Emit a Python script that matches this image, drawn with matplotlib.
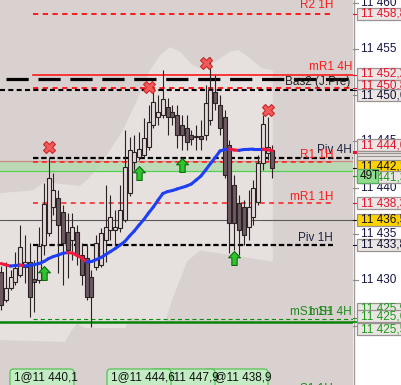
import numpy as np
import matplotlib
matplotlib.use('Agg')
import matplotlib.pyplot as plt
from matplotlib.patches import Rectangle, FancyBboxPatch
from matplotlib.path import Path

plt.rcParams['font.family'] = ['Liberation Sans', 'DejaVu Sans']
plt.rcParams['lines.scale_dashes'] = False

# candles (one per bar)
opens = [11430.9, 11427.8, 11429.1, 11429.8, 11430.5, 11431.4, 11431.9, 11430.1, 11430.0, 11433.8,
         11435.1, 11437.9, 11438.9, 11437.4, 11435.2, 11434.3, 11435.2, 11432.7, 11432.4, 11430.3,
         11431.4, 11431.6, 11434.3, 11435.4, 11435.4, 11435.6, 11436.5, 11439.4, 11442.8, 11443.3,
         11443.5, 11444.4, 11446.8, 11447.6, 11447.9, 11448.7, 11448.2, 11447.9, 11446.8, 11446.4,
         11445.7, 11445.5, 11445.6, 11445.7, 11447.3, 11450.3, 11448.9, 11447.6, 11444.6, 11440.3,
         11438.3, 11437.9, 11435.7, 11436.8, 11438.4, 11442.7, 11443.7, 11444.1]
highs = [11431.5, 11431.9, 11431.1, 11433.0, 11435.9, 11434.9, 11434.0, 11432.2, 11435.7, 11440.5,
         11443.2, 11441.6, 11439.7, 11438.1, 11437.2, 11437.2, 11435.9, 11434.0, 11433.8, 11431.1,
         11434.9, 11435.6, 11440.3, 11439.2, 11437.6, 11440.3, 11446.2, 11445.5, 11445.7, 11446.0,
         11447.5, 11448.9, 11450.8, 11450.0, 11452.7, 11449.7, 11448.9, 11448.9, 11447.9, 11447.9,
         11446.2, 11446.8, 11447.3, 11451.1, 11454.1, 11452.2, 11450.0, 11448.4, 11445.2, 11441.4,
         11439.2, 11438.7, 11439.7, 11440.8, 11443.5, 11447.9, 11447.6, 11444.6]
lows = [11426.8, 11427.6, 11428.9, 11429.5, 11430.3, 11429.7, 11426.0, 11426.5, 11429.7, 11432.7,
        11434.8, 11437.0, 11430.8, 11429.5, 11430.2, 11432.2, 11431.6, 11429.5, 11427.8, 11424.9,
        11431.1, 11431.4, 11431.9, 11434.3, 11433.8, 11435.2, 11436.3, 11439.1, 11441.9, 11443.0,
        11443.2, 11444.1, 11446.4, 11446.8, 11447.5, 11445.7, 11446.8, 11444.3, 11444.1, 11444.1,
        11444.6, 11444.1, 11444.1, 11445.2, 11446.8, 11448.4, 11445.7, 11441.0, 11432.9, 11433.2,
        11432.7, 11433.8, 11434.3, 11435.9, 11438.1, 11441.9, 11443.0, 11441.0]
closes = [11427.3, 11429.1, 11430.3, 11431.3, 11433.6, 11431.9, 11428.2, 11429.8, 11433.7, 11438.2,
          11441.0, 11439.7, 11435.9, 11434.0, 11433.2, 11435.7, 11432.7, 11430.5, 11428.2, 11428.2,
          11434.0, 11435.1, 11435.7, 11436.8, 11435.7, 11437.6, 11442.2, 11444.1, 11443.8, 11444.2,
          11445.4, 11447.1, 11449.3, 11448.2, 11449.6, 11447.6, 11447.6, 11445.7, 11445.7, 11444.9,
          11445.3, 11445.6, 11445.3, 11449.2, 11450.6, 11449.2, 11446.4, 11441.4, 11436.2, 11436.2,
          11435.4, 11434.9, 11437.9, 11440.0, 11442.7, 11446.9, 11444.4, 11442.1]

# moving average
ma = [11431.78, 11431.64, 11431.51, 11431.57, 11431.62, 11431.53, 11431.57, 11431.67, 11431.78, 11432.00,
      11432.32, 11432.54, 11432.70, 11432.89, 11432.97, 11432.92, 11432.65, 11432.38, 11431.94, 11432.00,
      11432.21, 11432.43, 11432.76, 11433.08, 11433.41, 11433.78, 11434.16, 11434.76, 11435.30, 11435.95,
      11436.54, 11437.25, 11437.90, 11438.65, 11439.36, 11439.57, 11439.68, 11439.85, 11440.01, 11440.17,
      11440.39, 11440.82, 11441.25, 11441.90, 11442.60, 11443.25, 11443.96, 11444.12, 11444.17, 11444.07,
      11444.03, 11444.12, 11444.14, 11444.17, 11444.17, 11444.17, 11444.09, 11444.01]

# light background cloud
cloud_top_x = [-0.2, 6.7, 9.2, 12.4, 16.6, 18.7, 21.8, 25.6, 28.6, 31.3, 33.4, 35.5, 37.6, 40.1, 41.8,
               45.0, 48.1, 49.8, 52.3, 54.8, 57.1]
cloud_top = [11439.4, 11439.7, 11440.6, 11440.4, 11440.2, 11441.1, 11443.2, 11446.2, 11449.5, 11452.7,
             11454.3, 11455.2, 11454.7, 11453.3, 11452.9, 11453.6, 11454.7, 11454.9, 11454.0, 11452.9, 11452.7]
cloud_bot_x = [-0.2, 13.4, 14.9, 16.0, 17.6, 26.1, 27.1, 34.5, 35.9, 39.1, 41.8, 57.1]
cloud_bot = [11423.5, 11423.3, 11424.6, 11425.3, 11424.8, 11424.8, 11425.9, 11425.4, 11427.8, 11432.0,
             11433.2, 11432.0]

# signals
sell_idx = [10, 31, 43, 56]
sell_px = [11444.4, 11450.9, 11453.5, 11448.4]
buy_idx = [9, 29, 38, 49]
buy_px = [11430.75, 11441.6, 11442.4, 11432.4]

# levels
r2_1h = 11458.8
mr1_4h = 11452.2
bas2 = 11451.7
r_4508 = 11450.8
b_4506 = 11450.6
piv_4h = 11443.2
r1_1h = 11442.8
zone_top = 11442.9
zone_bot = 11441.85
mr1_1h = 11438.3
last_close = 11436.5
piv_1h = 11433.8
ms1_4h = 11425.75
s_green = 11425.5

# price-scale tags: value, text colour, fill
tag_vals = [11458.8, 11452.2, 11450.8, 11450.6, 11444.0, 11443.9, 11443.8, 11443.7,
            11442.1, 11441.3, 11438.3, 11436.5, 11433.8, 11425.9, 11425.6, 11425.5]
tag_cols = ['#e8102a', '#e8102a', '#e8102a', '#101030', '#e8102a', '#e8102a', '#e8102a', '#e8102a',
            '#101010', '#1a9a1a', '#e8102a', '#101010', '#101030', '#1a9a1a', '#1a9a1a', '#1a9a1a']
tag_fill = ['#ebe6e4'] * 8 + ['#ffd200', '#ebe6e4', '#ebe6e4', '#ffd200', '#ebe6e4',
                              '#ebe6e4', '#ebe6e4', '#ebe6e4']
tag_text = [True, True, True, True, True, False, False, False,
            True, True, True, True, True, True, True, True]
# vertical shift of each tag (pixels down) to avoid overlap
tag_shift = [0, -1, -2, 5.5, -5.5, 5, 7, 9, -2, 1.5, 0, 0, 0, -9, -4.5, 7.5]

trades = ['1@11 438,9', '1@11 447,9', '1@11 444,6', '1@11 440,1']
trade_x = [204, 151, 107, 10]

ymin, ymax = 11418.64, 11460.30
W, H = 401, 385
fig = plt.figure(figsize=(W / 100, H / 100), dpi=100)
ax = fig.add_axes([0, 0, 353 / W, 1])
ax.set_xlim(-0.21, 73.95)
ax.set_ylim(ymin, ymax)
ax.axis('off')
ax.add_patch(Rectangle((0, 0), 1, 1, transform=ax.transAxes, color='#d9d1cf', zorder=0))

poly_x = cloud_top_x + cloud_bot_x[::-1]
poly_y = cloud_top + cloud_bot[::-1]
ax.fill(poly_x, poly_y, color='#e6e1df', lw=0, zorder=1)

# green zone
ax.axhspan(zone_bot, zone_top, color='#b6dab0', alpha=0.85, lw=0, zorder=2)
ax.axhline(zone_top, color='#c98a80', lw=0.9, zorder=3)
ax.axhline(zone_bot, color='#55d055', lw=0.9, zorder=3)

x0, x1 = 33 / 353, 333 / 353
ax.axhline(r2_1h, x0, x1, color='#ff1a1a', lw=1.4, ls=(0, (3.8, 3.2)), zorder=3)
ax.axhline(mr1_4h, x0, 1, color='#ff1a1a', lw=1.2, zorder=3)
ax.axhline(bas2, 6 / 353, 1, color='black', lw=2.3, ls=(0, (16, 7)), zorder=3)
ax.axhline(r_4508, x0, 1, color='#ff1a1a', lw=1.4, ls=(0, (3.8, 3.2)), zorder=3)
ax.axhline(b_4506, 0, 1, color='black', lw=1.5, ls=(0, (3.6, 2.4)), zorder=3)
ax.axhline(piv_4h, x0, 1, color='black', lw=1.6, ls=(0, (3.9, 2.0)), zorder=3)
ax.axhline(r1_1h, x0, x1, color='#ff1a1a', lw=1.1, ls=(0, (3.6, 2.8)), zorder=3)
ax.axhline(mr1_1h, x0, x1, color='#ff1a1a', lw=1.1, ls=(0, (3.6, 3.2)), zorder=3)
ax.axhline(last_close, 0, 1, color='#5a5a5a', lw=0.8, zorder=3)
ax.axhline(piv_1h, x0, x1, color='black', lw=1.6, ls=(0, (3.9, 2.0)), zorder=3)
ax.axhline(ms1_4h, x0, 1, color='#108a10', lw=0.8, ls=(0, (3.0, 2.2)), zorder=3)
ax.axhline(s_green, 0, 1, color='#078407', lw=1.8, zorder=3)

# candles
bw = 0.84
for i in range(len(opens)):
    o, h, l, c = opens[i], highs[i], lows[i], closes[i]
    ax.vlines(i, l, h, color='#2b2224', lw=0.8, zorder=5)
    fc = '#e3d9d9' if c >= o else '#6d5962'
    ax.add_patch(Rectangle((i - bw / 2, min(o, c)), bw, max(abs(c - o), 0.1),
                           facecolor=fc, edgecolor='#2b2224', lw=0.8, zorder=6))

# moving average coloured by slope
for i in range(len(ma) - 1):
    col = '#1f3ff5' if ma[i + 1] >= ma[i] else '#f0183c'
    ax.plot([i, i + 1], [ma[i], ma[i + 1]], color=col, lw=2.2, solid_capstyle='round', zorder=7)

ax.plot(sell_idx, sell_px, ls='none', marker='X', ms=9, mfc='#f25a5a', mec='#c82828', mew=0.8, zorder=8)
arrow = Path([(0, 1), (0.85, 0.1), (0.38, 0.1), (0.38, -1), (-0.38, -1), (-0.38, 0.1), (-0.85, 0.1), (0, 1)],
             [Path.MOVETO] + [Path.LINETO] * 6 + [Path.CLOSEPOLY])
ax.plot(buy_idx, buy_px, ls='none', marker=arrow, ms=10, mfc='#2fc42f', mec='#0d6b0d', mew=0.8, zorder=8)

# level names
fs = 8.5
def lab(x, y, s, c):
    ax.text(x / 353, 1 - y / H, s, color=c, fontsize=fs, ha='right', va='center',
            transform=ax.transAxes, zorder=9)
lab(333, 5, 'R2 1H', '#ff1a1a')
lab(352, 67, 'mR1 4H', '#ff1a1a')
lab(350, 82, 'Bas2 (J.Pre)', '#202020')
lab(352, 150, 'Piv 4H', '#202040')
lab(333, 155, 'R1 1H', '#ff1a1a')
lab(333, 197, 'mR1 1H', '#ff1a1a')
lab(333, 238, 'Piv 1H', '#202040')
lab(333, 312, 'mS1 1H', '#1a8a1a')
lab(352, 312, 'mS1 4H', '#1a8a1a')
lab(333, 389, 'S1 1H', '#1a8a1a')

# trade boxes at the bottom
for k, (t, tx) in enumerate(zip(trades, trade_x)):
    z = 10 + 2 * k
    ax.add_patch(FancyBboxPatch((tx / 353, 1 - 392 / H), 64 / 353, 23 / H,
                                boxstyle='round,pad=0,rounding_size=0.01', transform=ax.transAxes,
                                facecolor='#c4ecc4', edgecolor='#55c455', lw=0.9, zorder=z))
    ax.text((tx + 4) / 353, 1 - 377 / H, t, fontsize=fs, color='#101010', va='center',
            transform=ax.transAxes, zorder=z + 1)

# price axis panel
axr = fig.add_axes([353 / W, 0, 48 / W, 1])
axr.set_xlim(0, 48)
axr.set_ylim(ymin, ymax)
axr.axis('off')
axr.add_patch(Rectangle((0, ymin), 48, ymax - ymin, color='white', zorder=0))
axr.axvline(0.5, color='#a09a98', lw=1.0, zorder=1)
ticks = [11460, 11455, 11450, 11445, 11440, 11435, 11430, 11425]
for t in ticks:
    axr.plot([0, 5], [t, t], color='#8a8a8a', lw=0.8, zorder=1)
    axr.text(8, t, '{:,}'.format(t).replace(',', ' '), fontsize=fs, color='#141446', va='center', zorder=1)

ppx = (ymax - ymin) / H
for k in range(len(tag_vals)):
    v = tag_vals[k]
    yc = v - tag_shift[k] * ppx
    z = 3 + 2 * k
    axr.plot([0, 4], [v, v], color=tag_cols[k], lw=0.8, zorder=2)
    axr.add_patch(Rectangle((4, yc - 6 * ppx), 50, 12 * ppx, facecolor=tag_fill[k], edgecolor='#9a9290',
                            lw=0.9, zorder=z))
    if tag_text[k]:
        axr.text(8, yc, '{:,.1f}'.format(v).replace(',', ' ').replace('.', ','),
                 fontsize=fs, color=tag_cols[k], va='center', zorder=z + 1)

axr.add_patch(Rectangle((4, 11441.3 - 7 * ppx), 21, 14 * ppx, facecolor='#8fdc8f',
                        edgecolor='#5ab05a', lw=0.9, zorder=60))
axr.text(7, 11441.3, '49T', fontsize=fs, color='#101010', va='center', zorder=61)

fig.savefig('out.png', dpi=100)
